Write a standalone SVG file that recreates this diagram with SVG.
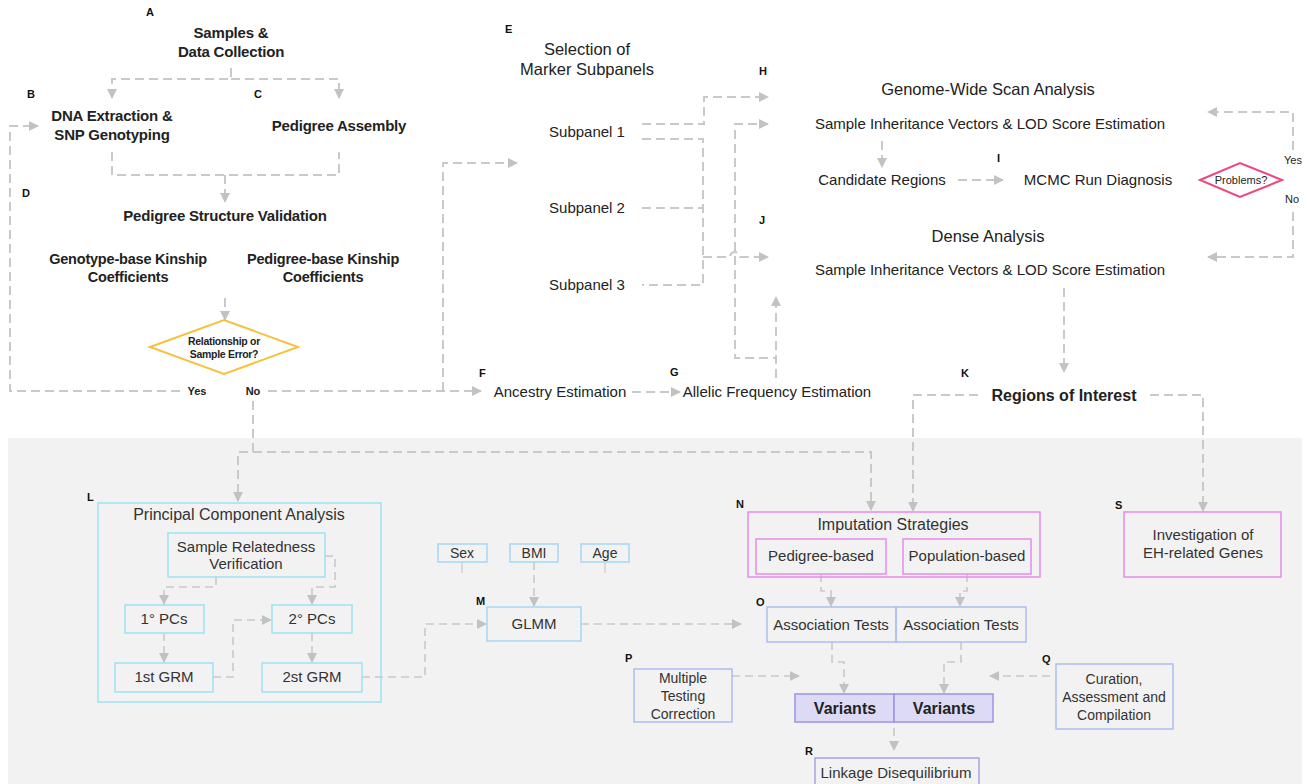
<svg xmlns="http://www.w3.org/2000/svg" width="1307" height="784" viewBox="0 0 1307 784">
<defs>
<marker id="ah" viewBox="0 0 10 10" refX="9" refY="5" markerWidth="10" markerHeight="10" markerUnits="userSpaceOnUse" orient="auto"><path d="M0,0 L10,5 L0,10 z" fill="#c2c2c2"/></marker>
</defs>
<style>
.c{fill:none;stroke:#c9c9c9;stroke-width:2;stroke-dasharray:9 5}
.c2{fill:none;stroke:#c9c9c9;stroke-width:1.6;stroke-dasharray:8 5}
.s{fill:none;stroke:#d4d4d4;stroke-width:1.6}
text{font-family:"Liberation Sans",Arial,sans-serif;fill:#222}
.hb{font-size:15px;font-weight:bold;text-anchor:middle;letter-spacing:-0.2px}
.hr{font-size:16.5px;text-anchor:middle}
.t{font-size:15px;text-anchor:middle}
.lb{font-size:11px;font-weight:bold;fill:#111}
.yn{font-size:11px;font-weight:bold;text-anchor:middle}
.l{font-size:15px;fill:#333;text-anchor:middle}
.l16{font-size:16px;fill:#333;text-anchor:middle}
.l14{font-size:14px;fill:#333;text-anchor:middle}
.bx-c{fill:none;stroke:#9ee2f4;stroke-width:1.5}
.bx-b{fill:none;stroke:#a6d6f6;stroke-width:1.5}
.bx-m{fill:none;stroke:#e68ae9;stroke-width:1.5}
.bx-p{fill:none;stroke:#aabff0;stroke-width:1.5}
.bx-v{fill:#dddaf6;stroke:#9c92e8;stroke-width:1.5}
</style>
<rect x="8" y="438" width="1294" height="346" fill="#f2f2f2"/>

<g id="connectors">
<path class="c" d="M231 68 V79 H112 V98" marker-end="url(#ah)"/>
<path class="c" d="M231 79 H339 V98" marker-end="url(#ah)"/>
<path class="c" d="M112 152 V175 H339 V152"/>
<path class="c" d="M225 175 V202" marker-end="url(#ah)"/>
<path class="c" d="M225 298 V320" marker-end="url(#ah)"/>
<path class="c" d="M180 391 H10 V126 H38" marker-end="url(#ah)"/>
<path class="c" d="M268 391 H481" marker-end="url(#ah)"/>
<path class="c" d="M443 391 V163 H517" marker-end="url(#ah)"/>
<path class="c" d="M253 401 V452 H238 V501" marker-end="url(#ah)"/>
<path class="c" d="M253 452 H871 V510" marker-end="url(#ah)"/>
<path class="c" d="M642 124 H704 V97 H768" marker-end="url(#ah)"/>
<path class="c" d="M642 139 H703 V285 H642"/>
<path class="c" d="M642 208 H703"/>
<path class="c" d="M703 257 H730 A5 5 0 0 1 740 257 H768" marker-end="url(#ah)"/>
<path class="c" d="M776 378 V358 H735 V124 H768" marker-end="url(#ah)"/>
<path class="c" d="M776 378 V297" marker-end="url(#ah)"/>
<path class="c" d="M632 392 H680" marker-end="url(#ah)"/>
<path class="c" d="M882 141 V167" marker-end="url(#ah)"/>
<path class="c" d="M958 180 H1003" marker-end="url(#ah)"/>
<path class="c" d="M1293 150 V112 H1208" marker-end="url(#ah)"/>
<path class="c" d="M1293 212 V257 H1208" marker-end="url(#ah)"/>
<path class="c" d="M1064 288 V372" marker-end="url(#ah)"/>
<path class="c" d="M978 395 H913 V511" marker-end="url(#ah)"/>
<path class="c" d="M1150 395 H1203 V511" marker-end="url(#ah)"/>
<path class="c2" d="M216 577 V587 H164 V604" marker-end="url(#ah)"/>
<path class="c2" d="M325 556 H335 V587 H312 V604" marker-end="url(#ah)"/>
<path class="c2" d="M164 633 V662" marker-end="url(#ah)"/>
<path class="c2" d="M312 633 V662" marker-end="url(#ah)"/>
<path class="c2" d="M213 677 H233 V620 H271" marker-end="url(#ah)"/>
<path class="c2" d="M362 677 H425 V624 H486" marker-end="url(#ah)"/>
<path class="c2" d="M534 562 V606" marker-end="url(#ah)"/>
<path class="s" d="M462 562 V573 M605 562 V573"/>
<path class="c2" d="M581 624 H741" marker-end="url(#ah)"/>
<path class="c2" d="M821 574 V591 H831 V606" marker-end="url(#ah)"/>
<path class="c2" d="M967 574 V591 H960 V606" marker-end="url(#ah)"/>
<path class="c2" d="M832 642 V662 H844 V693" marker-end="url(#ah)"/>
<path class="c2" d="M961 642 V662 H944 V693" marker-end="url(#ah)"/>
<path class="c2" d="M732 676 H799" marker-end="url(#ah)"/>
<path class="c2" d="M1050 676 H990" marker-end="url(#ah)"/>
<path class="c2" d="M894 728 V750" marker-end="url(#ah)"/>
</g>

<g id="A"><text class="lb" x="146" y="16">A</text>
<text class="hb" x="231" y="38">Samples &amp;</text><text class="hb" x="231" y="57">Data Collection</text></g>
<g id="B"><text class="lb" x="27" y="98">B</text>
<text class="hb" x="112" y="121">DNA Extraction &amp;</text><text class="hb" x="112" y="140">SNP Genotyping</text></g>
<g id="C"><text class="lb" x="254" y="98">C</text>
<text class="hb" x="339" y="131">Pedigree Assembly</text></g>
<g id="D"><text class="lb" x="22" y="197">D</text>
<text class="hb" x="225" y="221">Pedigree Structure Validation</text>
<text class="hb" x="128" y="264" style="font-size:14.5px">Genotype-base Kinship</text><text class="hb" x="128" y="282" style="font-size:14.5px">Coefficients</text>
<text class="hb" x="323" y="264" style="font-size:14.5px">Pedigree-base Kinship</text><text class="hb" x="323" y="282" style="font-size:14.5px">Coefficients</text></g>
<g id="D-decision"><polygon points="150,347 224,320 298,347 224,374" fill="none" stroke="#f6c23e" stroke-width="2"/>
<text class="yn" x="224" y="345" style="font-size:10.5px;letter-spacing:-0.3px">Relationship or</text>
<text class="yn" x="224" y="358" style="font-size:10.5px;letter-spacing:-0.3px">Sample Error?</text>
<text class="yn" x="197" y="395">Yes</text><text class="yn" x="253" y="395">No</text></g>

<g id="E"><text class="lb" x="505" y="33">E</text>
<text class="hr" x="587" y="55">Selection of</text><text class="hr" x="587" y="75">Marker Subpanels</text>
<text class="t" x="587" y="137">Subpanel 1</text>
<text class="t" x="587" y="213">Subpanel 2</text>
<text class="t" x="587" y="290">Subpanel 3</text></g>
<g id="F"><text class="lb" x="479" y="377">F</text><text class="t" x="560" y="397">Ancestry Estimation</text></g>
<g id="G"><text class="lb" x="670" y="376">G</text><text class="t" x="777" y="397">Allelic Frequency Estimation</text></g>

<g id="H"><text class="lb" x="759" y="75">H</text>
<text class="hr" x="988" y="95">Genome-Wide Scan Analysis</text>
<text class="t" x="990" y="129">Sample Inheritance Vectors &amp; LOD Score Estimation</text>
<text class="t" x="882" y="185">Candidate Regions</text></g>
<g id="I"><text class="lb" x="997" y="162">I</text>
<text class="t" x="1098" y="185">MCMC Run Diagnosis</text></g>
<g id="I-decision"><polygon points="1200,180 1240,163 1282,180 1240,197" fill="none" stroke="#f0477a" stroke-width="2"/>
<text x="1241" y="184" style="font-size:11px;text-anchor:middle">Problems?</text>
<text x="1293" y="164" style="font-size:11px;text-anchor:middle">Yes</text>
<text x="1292" y="203" style="font-size:11px;text-anchor:middle">No</text></g>
<g id="J"><text class="lb" x="759" y="224">J</text>
<text class="hr" x="988" y="242">Dense Analysis</text>
<text class="t" x="990" y="275">Sample Inheritance Vectors &amp; LOD Score Estimation</text></g>
<g id="K"><text class="lb" x="961" y="377">K</text>
<text x="1064" y="401" style="font-size:16px;font-weight:bold;text-anchor:middle">Regions of Interest</text></g>

<g id="L"><text class="lb" x="87" y="501">L</text>
<rect class="bx-c" x="98" y="503" width="283" height="199"/>
<text class="l16" x="239" y="520">Principal Component Analysis</text>
<rect class="bx-c" x="168" y="533" width="157" height="44"/>
<text class="l" x="246" y="552">Sample Relatedness</text><text class="l" x="246" y="569">Verification</text>
<rect class="bx-c" x="125" y="605" width="79" height="28"/><text class="l" x="164" y="624">1° PCs</text>
<rect class="bx-c" x="272" y="605" width="80" height="28"/><text class="l" x="312" y="624">2° PCs</text>
<rect class="bx-c" x="115" y="663" width="98" height="29"/><text class="l" x="164" y="682">1st GRM</text>
<rect class="bx-c" x="262" y="663" width="100" height="29"/><text class="l" x="312" y="682">2st GRM</text></g>
<g id="covariates">
<rect class="bx-b" x="438" y="544" width="49" height="18"/><text class="l14" x="462" y="558">Sex</text>
<rect class="bx-b" x="510" y="544" width="48" height="18"/><text class="l14" x="534" y="558">BMI</text>
<rect class="bx-b" x="581" y="544" width="48" height="18"/><text class="l14" x="605" y="558">Age</text></g>
<g id="M"><text class="lb" x="476" y="605">M</text>
<rect class="bx-b" x="487" y="607" width="94" height="34"/><text class="l" x="534" y="629">GLMM</text></g>
<g id="N"><text class="lb" x="736" y="508">N</text>
<rect class="bx-m" x="748" y="512" width="292" height="65"/>
<text class="l16" x="893" y="530">Imputation Strategies</text>
<rect class="bx-m" x="756" y="539" width="130" height="35"/><text class="l" x="821" y="561">Pedigree-based</text>
<rect class="bx-m" x="903" y="539" width="128" height="35"/><text class="l" x="967" y="561">Population-based</text></g>
<g id="O"><text class="lb" x="756" y="606">O</text>
<rect class="bx-p" x="767" y="607" width="129" height="35"/><text class="l" x="831" y="630">Association Tests</text>
<rect class="bx-p" x="896" y="607" width="130" height="35"/><text class="l" x="961" y="630">Association Tests</text></g>
<g id="P"><text class="lb" x="625" y="662">P</text>
<rect class="bx-p" x="634" y="669" width="98" height="53"/>
<text class="l14" x="683" y="683">Multiple</text><text class="l14" x="683" y="701">Testing</text><text class="l14" x="683" y="719">Correction</text></g>
<g id="variants">
<rect class="bx-v" x="795" y="694" width="99" height="28"/><text x="845" y="714" style="font-size:16px;font-weight:bold;text-anchor:middle">Variants</text>
<rect class="bx-v" x="894" y="694" width="99" height="28"/><text x="944" y="714" style="font-size:16px;font-weight:bold;text-anchor:middle">Variants</text></g>
<g id="Q"><text class="lb" x="1042" y="663">Q</text>
<rect class="bx-p" x="1056" y="664" width="117" height="65"/>
<text class="l14" x="1114" y="684">Curation,</text><text class="l14" x="1114" y="702">Assessment and</text><text class="l14" x="1114" y="720">Compilation</text></g>
<g id="R"><text class="lb" x="805" y="755">R</text>
<rect x="815" y="758" width="164" height="40" fill="none" stroke="#aaa2e2" stroke-width="1.5"/>
<text class="l" x="896" y="778">Linkage Disequilibrium</text></g>
<g id="S"><text class="lb" x="1115" y="509">S</text>
<rect class="bx-m" x="1124" y="512" width="157" height="65"/>
<text class="l" x="1203" y="540">Investigation of</text><text class="l" x="1203" y="558">EH-related Genes</text></g>
</svg>
